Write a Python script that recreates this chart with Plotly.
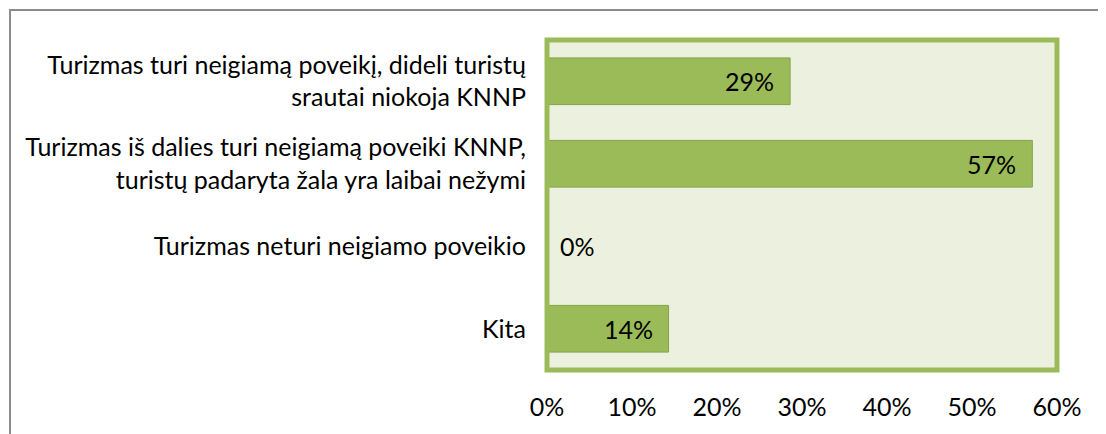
import plotly.graph_objects as go

categories = [
    "Turizmas turi neigiamą poveikį, dideli turistų<br>srautai niokoja KNNP",
    "Turizmas iš dalies turi neigiamą poveiki KNNP,<br>turistų padaryta žala yra laibai nežymi",
    "Turizmas neturi neigiamo poveikio",
    "Kita",
]
values = [28.6, 57.1, 0.0, 14.3]
value_labels = ["29%", "57%", "0%", "14%"]
tick_vals = [0, 10, 20, 30, 40, 50, 60]
tick_text = ["0%", "10%", "20%", "30%", "40%", "50%", "60%"]

FONT = "Lato"
FS = 25
GREEN = "#9BBB59"

# page has an 8px body margin; work in page coords and convert
OFF = 8
PAGE_W, PAGE_H = 1106, 434
W, H = PAGE_W - OFF, PAGE_H - OFF
# plot area in page pixel coords
P_L, P_R, P_T, P_B = 546.5, 1057, 39.5, 370
L = P_L - OFF
R = W - (P_R - OFF)
T = P_T - OFF
B = H - (P_B - OFF)
pw, ph = W - L - R, H - T - B

def px(xp):
    return (xp - OFF - L) / pw
def py(yp):
    return (H - B - (yp - OFF)) / ph

fig = go.Figure()
fig.add_trace(go.Bar(
    x=values, y=categories, orientation="h",
    marker=dict(color=GREEN, line=dict(color="#85A34B", width=1)),
    hoverinfo="skip",
))

annotations = []
for v, c, t in zip(values, categories, value_labels):
    if v > 0:
        annotations.append(dict(x=v, y=c, xref="x", yref="y", text=t, showarrow=False,
                                xanchor="right", xshift=-14,
                                font=dict(family=FONT, size=FS, color="#000")))
    else:
        annotations.append(dict(x=v, y=c, xref="x", yref="y", text=t, showarrow=False,
                                xanchor="left", xshift=11,
                                font=dict(family=FONT, size=FS, color="#000")))

shapes = [
    dict(type="rect", xref="paper", yref="paper", x0=0, x1=1, y0=0, y1=1,
         line=dict(color=GREEN, width=5), layer="above"),
    dict(type="line", xref="paper", yref="paper", x0=px(9), x1=px(1300), y0=py(9.5), y1=py(9.5),
         line=dict(color="#8c8c8c", width=2)),
    dict(type="line", xref="paper", yref="paper", x0=px(9), x1=px(9), y0=py(8.5), y1=py(600),
         line=dict(color="#8c8c8c", width=2)),
]

fig.update_layout(
    width=W, height=H,
    margin=dict(l=L, r=R, t=T, b=B, autoexpand=False),
    paper_bgcolor="white",
    plot_bgcolor="#EBF1DE",
    bargap=0.434,
    showlegend=False,
    font=dict(family=FONT, size=FS, color="#000"),
    annotations=annotations,
    shapes=shapes,
    xaxis=dict(range=[0, 60], tickvals=tick_vals, ticktext=tick_text, showgrid=False,
               zeroline=False, showline=False, ticks="", ticklabelstandoff=20,
               tickfont=dict(family=FONT, size=FS, color="#000"), fixedrange=True),
    yaxis=dict(categoryorder="array", categoryarray=categories, autorange="reversed",
               showgrid=False, zeroline=False, showline=False, ticks="",
               ticklabelstandoff=20,
               tickfont=dict(family=FONT, size=FS, color="#000"), fixedrange=True),
)

fig.write_html("out.html")
